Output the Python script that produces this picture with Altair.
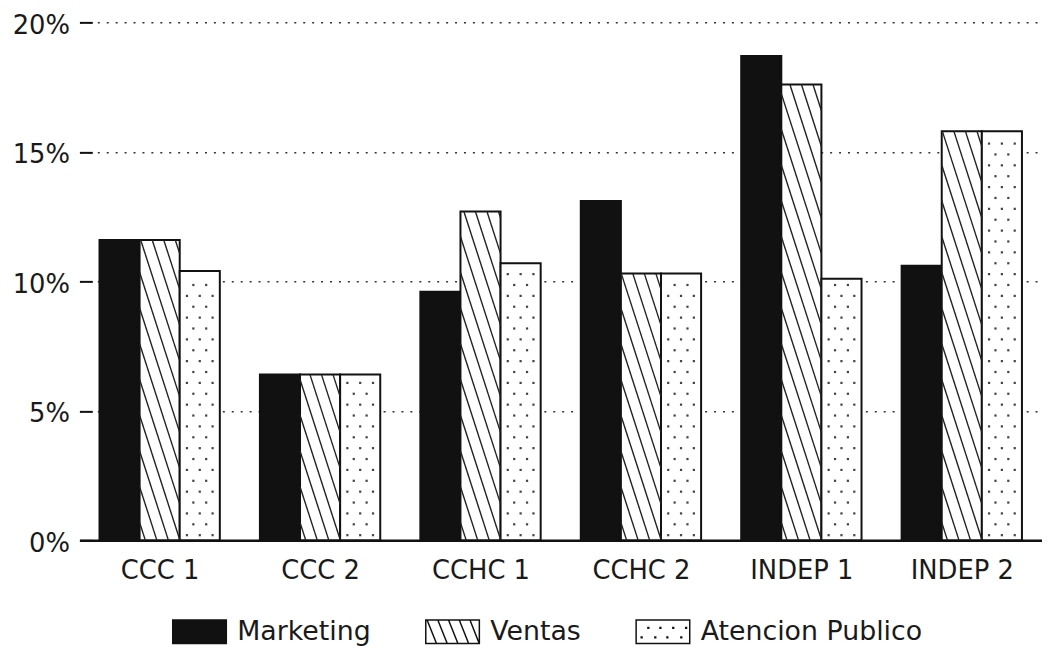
import json
import altair as alt
import pandas as pd

# ---- data ----
categories = ["CCC 1", "CCC 2", "CCHC 1", "CCHC 2", "INDEP 1", "INDEP 2"]
series_names = ["Marketing", "Ventas", "Atencion Publico"]
marketing = [11.6, 6.4, 9.6, 13.1, 18.7, 10.6]
ventas = [11.6, 6.4, 12.7, 10.3, 17.6, 15.8]
atencion = [10.4, 6.4, 10.7, 10.3, 10.1, 15.8]
y_ticks = [0, 5, 10, 15, 20]

rows = []
for i, c in enumerate(categories):
    for j, (s, vals) in enumerate(zip(series_names, [marketing, ventas, atencion])):
        rows.append({"cat": c, "idx": i, "series": s, "sidx": j, "value": vals[i]})
df = pd.DataFrame(rows)

# ---- styling constants ----
FONT = "DejaVu Sans"
INK = "#111111"
BW = 0.25          # bar width in x units (one group = 1 unit)
K = 19.2           # hatch slope (value % per x unit)
S = 1.38           # hatch spacing along vertical edge (value %)
D0, DR = 0.2, 0.42 # dot rows start / spacing (value %)

xscale = alt.Scale(domain=[-0.5, len(categories) - 0.5], nice=False, zero=False)
yscale = alt.Scale(domain=[0, 20], nice=False, zero=True)
xleft = f"datum.idx + (datum.sidx - 1.5) * {BW}"

x_axis = alt.Axis(
    values=list(range(len(categories))),
    labelExpr=f"{json.dumps(categories)}[datum.value]",
    title=None, ticks=False, tickSize=0, grid=False,
    domain=True, domainColor=INK, domainWidth=2.5,
    labelFontSize=26, labelPadding=30, labelBaseline="middle",
    labelAngle=0, labelFlush=False, labelOverlap=False,
)
y_axis = alt.Axis(
    values=y_ticks, labelExpr="datum.value + '%'", title=None,
    offset=-13, tickSize=13, tickWidth=2, tickColor=INK, domain=False,
    grid=True, gridDash=[2, 7], gridColor="#333333", gridWidth=1.5,
    labelFontSize=26, labelPadding=10, labelBaseline="middle", labelOffset=3,
)

base = alt.Chart(df)

bars = base.transform_calculate(
    x0=xleft, x1=f"{xleft} + {BW}"
).mark_bar(stroke=INK, strokeWidth=2).encode(
    x=alt.X("x0:Q", scale=xscale, axis=x_axis),
    x2="x1:Q",
    y=alt.Y("value:Q", scale=yscale, axis=y_axis),
    y2=alt.datum(0),
    fill=alt.condition(alt.datum.series == "Marketing", alt.value(INK), alt.value("white")),
)

hatch = base.transform_filter(alt.datum.series == "Ventas").transform_calculate(
    xl=xleft,
    cs=f"sequence({S/2}, datum.value + {K*BW}, {S})",
).transform_flatten(["cs"]).transform_calculate(
    hx1=f"datum.xl + max(0, datum.cs - datum.value) / {K}",
    hy1="min(datum.cs, datum.value)",
    hx2=f"datum.xl + min({BW}, datum.cs / {K})",
    hy2=f"max(0, datum.cs - {K*BW})",
).mark_rule(color="#222222", strokeWidth=1.4).encode(
    x=alt.X("hx1:Q", scale=xscale, axis=x_axis),
    x2="hx2:Q",
    y=alt.Y("hy1:Q", scale=yscale, axis=y_axis),
    y2="hy2:Q",
)

dots = base.transform_filter(alt.datum.series == "Atencion Publico").transform_calculate(
    xl=xleft,
    rs=f"sequence(0, floor((datum.value - {D0 + 0.15}) / {DR}) + 1)",
).transform_flatten(["rs"]).transform_calculate(
    dy=f"{D0} + datum.rs * {DR}",
    fr="datum.rs % 2 == 0 ? [0.18, 0.5, 0.82] : [0.34, 0.66]",
).transform_flatten(["fr"]).transform_calculate(
    dx=f"datum.xl + datum.fr * {BW}"
).mark_square(size=5, color="#444444", opacity=1).encode(
    x=alt.X("dx:Q", scale=xscale, axis=x_axis),
    y=alt.Y("dy:Q", scale=yscale, axis=y_axis),
)

# legend swatch shapes (unit box -1..1)
rect = "M-1,-0.44H1V0.44H-1Z"
p_mark = rect
p_vent = rect + " M-0.95,-0.44L-0.6,0.44 M-0.55,-0.44L-0.2,0.44 M-0.15,-0.44L0.2,0.44 M0.25,-0.44L0.6,0.44 M0.65,-0.44L0.98,0.4"
dot = "h0.03v0.03h-0.03Z"
p_aten = rect + "".join(
    f" M{x},{y}{dot}" for x, y in [(-0.56, -0.16), (-0.11, -0.16), (0.37, -0.16), (0.85, -0.16),
                                   (-0.81, 0.2), (-0.3, 0.2), (0.15, 0.2), (0.67, 0.2)]
)

leg = alt.Legend(
    title=None, orient="none", legendX=93, legendY=586, direction="horizontal",
    columns=3, symbolSize=54 * 54, labelFont=FONT, labelFontSize=27, labelColor="#1a1a1a",
    labelOffset=10, columnPadding=52, labelLimit=400, padding=0,
    symbolStrokeColor=INK, symbolStrokeWidth=1.5, symbolOpacity=1,
)

legend_layer = base.transform_filter("false").mark_point(
    filled=True, opacity=1, strokeWidth=1.5
).encode(
    x=alt.X("idx:Q", scale=xscale, axis=x_axis),
    y=alt.Y("value:Q", scale=yscale, axis=y_axis),
    fill=alt.Fill("series:N", scale=alt.Scale(domain=series_names, range=[INK, "white", "white"]), legend=leg),
    stroke=alt.Stroke("series:N", scale=alt.Scale(domain=series_names, range=[INK, INK, INK]), legend=leg),
    shape=alt.Shape("series:N", scale=alt.Scale(domain=series_names, range=[p_mark, p_vent, p_aten]), legend=leg),
)

chart = alt.layer(bars, hatch, dots, legend_layer).properties(
    width=970, height=522,
    autosize=alt.AutoSizeParams(type="none"),
    padding={"left": 72, "top": 12, "right": 0, "bottom": 108},
    background="white",
).configure_view(stroke=None).configure_axis(
    labelFont=FONT, labelColor="#1a1a1a"
)

chart.save("out.html", embed_options={"renderer": "svg", "actions": False})
